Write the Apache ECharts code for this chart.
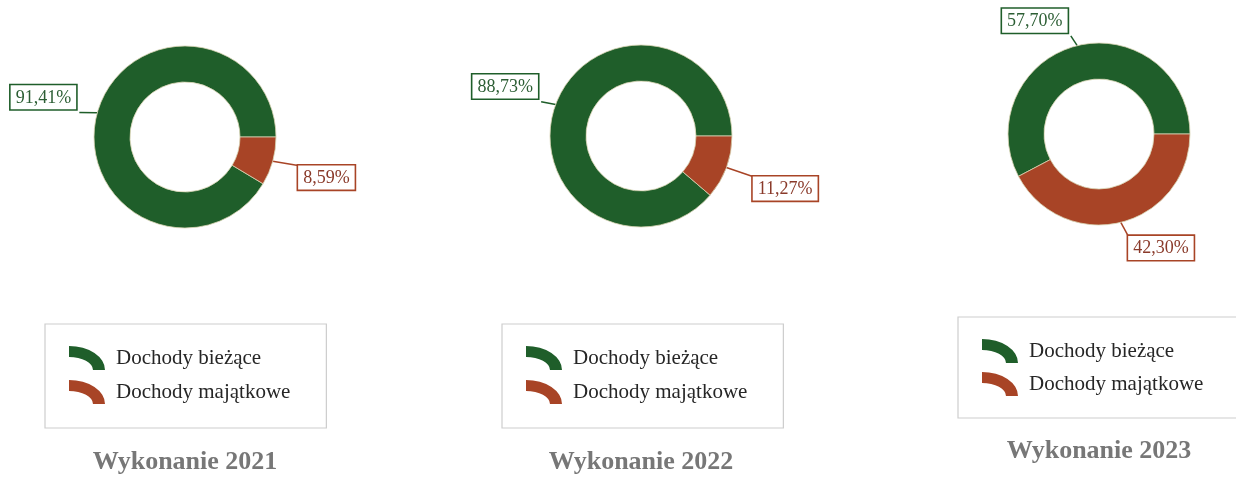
<!DOCTYPE html>
<html>
<head>
<meta charset="utf-8">
<script src="https://cdn.jsdelivr.net/npm/echarts@6/dist/echarts.min.js"></script>
<style>
  html, body { margin: 0; padding: 0; background: #ffffff; }
  #chart { width: 1236px; height: 478px; }
</style>
</head>
<body>
<div id="chart"></div>
<script>
// ---- data ----
const titles = ['Wykonanie 2021', 'Wykonanie 2022', 'Wykonanie 2023'];
const categories = ['Dochody bieżące', 'Dochody majątkowe'];
const valuesBiezace = [91.41, 88.73, 57.70];
const valuesMajatkowe = [8.59, 11.27, 42.30];

// ---- styling / layout ----
const FONT = '"Liberation Serif", "DejaVu Serif", serif';
const GREEN = '#1f5e2a';
const RED = '#a84426';
const GREEN_TXT = '#2c5e34';
const RED_TXT = '#8a3a2a';
const centers = [[185, 137], [641, 136], [1099, 134]];
// [radial length, horizontal length] of label connector lines
const greenLine = [[1, 17], [8, 7], [10, 4]];
const redLine = [[16, 10], [26, 2], [14, 4]];
const legendPos = [
  { left: 45, top: 324, gap: 10, padB: 24 },
  { left: 502, top: 324, gap: 10, padB: 24 },
  { left: 958, top: 317, gap: 9, padB: 22 }
];
const titleTops = [449, 449, 438];

function fmt(v) { return v.toFixed(2).replace('.', ',') + '%'; }

function placeLabel(p) {
  const pts = p.labelLinePoints;
  if (!pts) return {};
  const start = pts[0];
  const end = pts[pts.length - 1];
  const isLeft = end[0] < start[0];
  const r = p.labelRect;
  return {
    x: isLeft ? end[0] - r.width : end[0],
    y: isLeft ? end[1] - r.height : end[1],
    align: 'left',
    verticalAlign: 'top',
    labelLinePoints: [start.slice(), end.slice()]
  };
}

const iconPath = 'path://M0 0 A36 24 0 0 1 36 24 L24 24 A24 13 0 0 0 0 11 Z';

const series = titles.map((t, i) => ({
  type: 'pie',
  name: t,
  center: centers[i],
  radius: [55, 91],
  startAngle: 0,
  clockwise: false,
  avoidLabelOverlap: false,
  silent: true,
  itemStyle: { borderColor: '#d8d4b4', borderWidth: 0.8 },
  label: {
    show: true,
    position: 'outside',
    formatter: (p) => fmt(p.value),
    fontFamily: FONT,
    fontSize: 18,
    lineHeight: 19,
    backgroundColor: '#ffffff',
    borderWidth: 1.6,
    padding: [3, 5, 2, 5],
    distanceToLabelLine: 0
  },
  labelLine: { show: true, lineStyle: { width: 1.5 } },
  labelLayout: placeLabel,
  data: [
    {
      name: categories[0], value: valuesBiezace[i],
      itemStyle: { color: GREEN },
      label: { color: GREEN_TXT, borderColor: GREEN },
      labelLine: { length: greenLine[i][0], length2: greenLine[i][1], lineStyle: { color: GREEN } }
    },
    {
      name: categories[1], value: valuesMajatkowe[i],
      itemStyle: { color: RED },
      label: { color: RED_TXT, borderColor: RED },
      labelLine: { length: redLine[i][0], length2: redLine[i][1], lineStyle: { color: RED } }
    }
  ]
}));

const legends = legendPos.map((lp) => ({
  orient: 'vertical',
  left: lp.left,
  top: lp.top,
  padding: [22, 36, lp.padB, 24],
  itemGap: lp.gap,
  itemWidth: 36,
  itemHeight: 24,
  borderColor: '#cdcdcd',
  borderWidth: 1.2,
  selectedMode: false,
  icon: iconPath,
  itemStyle: { borderWidth: 0 },
  textStyle: { fontFamily: FONT, fontSize: 21, color: '#262626', padding: [0, 0, 0, 6] },
  data: categories
}));

const titleOpts = titles.map((t, i) => ({
  text: t,
  left: centers[i][0],
  top: titleTops[i],
  textAlign: 'center',
  padding: 0,
  textStyle: { fontFamily: FONT, fontSize: 26, fontWeight: 'bold', color: '#777777' }
}));

const chart = echarts.init(document.getElementById('chart'));
chart.setOption({
  animation: false,
  backgroundColor: '#ffffff',
  color: [GREEN, RED],
  title: titleOpts,
  legend: legends,
  series: series
});
</script>
</body>
</html>
